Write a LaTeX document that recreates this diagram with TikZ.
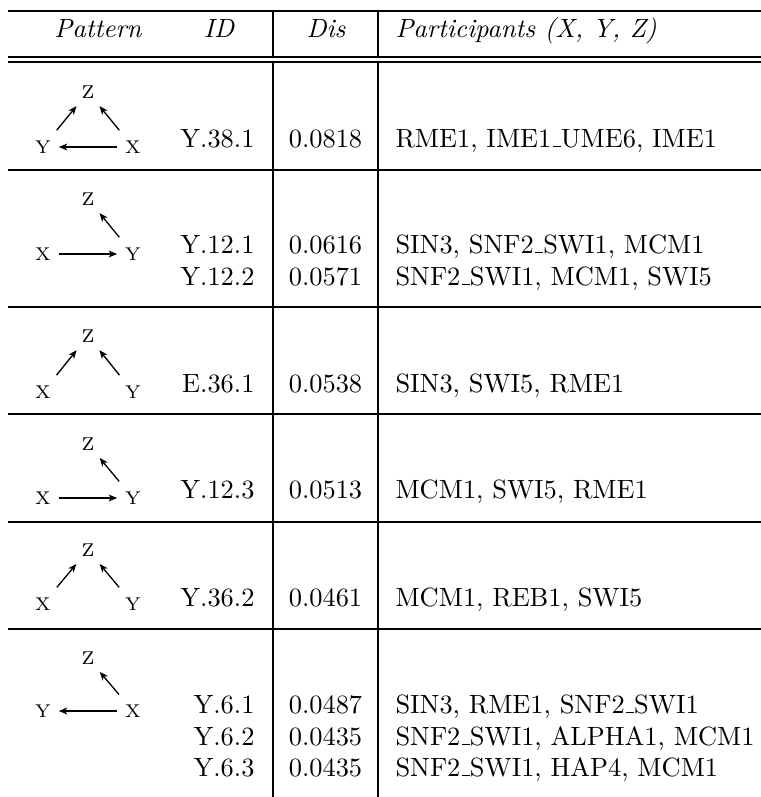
\documentclass[tikz,border=0pt]{standalone}
\usetikzlibrary{arrows.meta}
\newcommand{\usc}{\leavevmode\kern.06em\vbox{\hrule width.3em}}
\begin{document}
\begin{tikzpicture}[x=0.3788pt,y=-0.3788pt,
  rule/.style={line width=0.5pt},
  lab/.style={circle,minimum size=12pt,inner sep=0pt,outer sep=0pt,font=\scriptsize},
  arr/.style={line width=0.5pt,-{Stealth[length=3.2pt,width=2.6pt,inset=0.9pt]}},
  diag/.style={arr,shorten <=2.2pt,shorten >=0.9pt},
  idt/.style={anchor=base east,inner sep=0pt},
  dist/.style={anchor=base,inner sep=0pt},
  part/.style={anchor=base west,inner sep=0pt},
  hdr/.style={anchor=base,inner sep=0pt,font=\itshape}]
\useasboundingbox (0,0) rectangle (761,797);
% rules
\coordinate (hl0) at (8,11);   \coordinate (hr0) at (761,11);
\coordinate (hl1) at (8,57);   \coordinate (hr1) at (761,57);
\coordinate (hl2) at (8,62);   \coordinate (hr2) at (761,62);
\coordinate (hl3) at (8,170);  \coordinate (hr3) at (761,170);
\coordinate (hl4) at (8,307);  \coordinate (hr4) at (761,307);
\coordinate (hl5) at (8,414);  \coordinate (hr5) at (761,414);
\coordinate (hl6) at (8,522);  \coordinate (hr6) at (761,522);
\coordinate (hl7) at (8,629);  \coordinate (hr7) at (761,629);
\foreach \i in {0,...,7}{\draw[rule] (hl\i) -- (hr\i);}
\coordinate (va0) at (273,11);  \coordinate (va1) at (273,57);
\coordinate (va2) at (273,62);  \coordinate (va3) at (273,797);
\coordinate (vb0) at (378,11);  \coordinate (vb1) at (378,57);
\coordinate (vb2) at (378,62);  \coordinate (vb3) at (378,797);
\draw[rule] (va0) -- (va1) (va2) -- (va3) (vb0) -- (vb1) (vb2) -- (vb3);
% header
\node[hdr] (hpat) at (98,37) {Pattern};
\node[hdr] (hid) at (219,37) {ID};
\node[hdr] (hdis) at (326,37) {Dis};
\node[hdr,anchor=base west] (hpart) at (395,37) {Participants (X, Y, Z)};
% row 1
\node[lab] (z1) at (88,92) {Z};
\node[lab] (y1) at (43,147) {Y};
\node[lab] (x1) at (133,147) {X};
\draw[arr] (x1) -- (y1);
\draw[diag] (y1) -- (z1);
\draw[diag] (x1) -- (z1);
\node[idt] (id1) at (255,147) {Y.38.1};
\node[dist] (d1) at (325.5,147) {0.0818};
\node[part] (p1) at (395,147) {RME1, IME1\usc UME6, IME1};
% row 2
\node[lab] (z2) at (88,199) {Z};
\node[lab] (x2) at (43,254) {X};
\node[lab] (y2) at (133,254) {Y};
\draw[arr] (x2) -- (y2);
\draw[diag] (y2) -- (z2);
\node[idt] (id2a) at (255,253) {Y.12.1};
\node[dist] (d2a) at (325.5,253) {0.0616};
\node[part] (p2a) at (395,253) {SIN3, SNF2\usc SWI1, MCM1};
\node[idt] (id2b) at (255,285) {Y.12.2};
\node[dist] (d2b) at (325.5,285) {0.0571};
\node[part] (p2b) at (395,285) {SNF2\usc SWI1, MCM1, SWI5};
% row 3
\node[lab] (z3) at (88,336) {Z};
\node[lab] (x3) at (43,392) {X};
\node[lab] (y3) at (133,392) {Y};
\draw[diag] (x3) -- (z3);
\draw[diag] (y3) -- (z3);
\node[idt] (id3) at (255,392) {E.36.1};
\node[dist] (d3) at (325.5,392) {0.0538};
\node[part] (p3) at (395,392) {SIN3, SWI5, RME1};
% row 4
\node[lab] (z4) at (88,444) {Z};
\node[lab] (x4) at (43,498) {X};
\node[lab] (y4) at (133,498) {Y};
\draw[arr] (x4) -- (y4);
\draw[diag] (y4) -- (z4);
\node[idt] (id4) at (255,498) {Y.12.3};
\node[dist] (d4) at (325.5,498) {0.0513};
\node[part] (p4) at (395,498) {MCM1, SWI5, RME1};
% row 5
\node[lab] (z5) at (88,550) {Z};
\node[lab] (x5) at (43,604) {X};
\node[lab] (y5) at (133,604) {Y};
\draw[diag] (x5) -- (z5);
\draw[diag] (y5) -- (z5);
\node[idt] (id5) at (255,606) {Y.36.2};
\node[dist] (d5) at (325.5,606) {0.0461};
\node[part] (p5) at (395,606) {MCM1, REB1, SWI5};
% row 6
\node[lab] (z6) at (88,658) {Z};
\node[lab] (y6) at (43,711) {Y};
\node[lab] (x6) at (133,711) {X};
\draw[arr] (x6) -- (y6);
\draw[diag] (x6) -- (z6);
\node[idt] (id6a) at (255,713) {Y.6.1};
\node[dist] (d6a) at (325.5,713) {0.0487};
\node[part] (p6a) at (395,713) {SIN3, RME1, SNF2\usc SWI1};
\node[idt] (id6b) at (255,745) {Y.6.2};
\node[dist] (d6b) at (325.5,745) {0.0435};
\node[part] (p6b) at (395,745) {SNF2\usc SWI1, ALPHA1, MCM1};
\node[idt] (id6c) at (255,776) {Y.6.3};
\node[dist] (d6c) at (325.5,776) {0.0435};
\node[part] (p6c) at (395,776) {SNF2\usc SWI1, HAP4, MCM1};
\end{tikzpicture}
\end{document}
